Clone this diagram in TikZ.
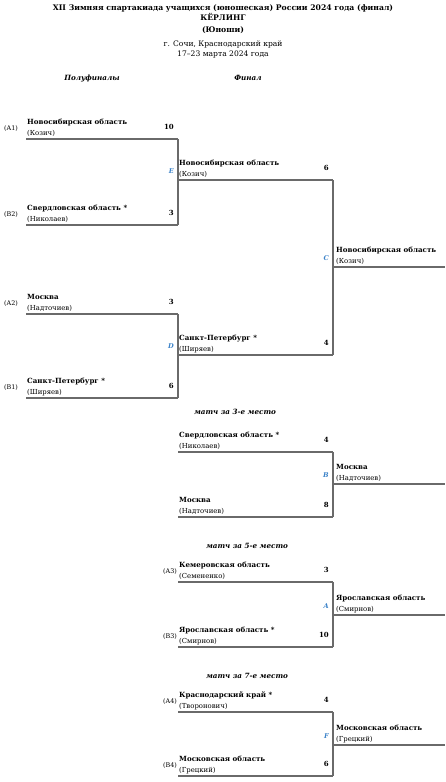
\documentclass[tikz,border=0pt]{standalone}
\usepackage{fontspec}
\setmainfont{DejaVu Serif}
\usetikzlibrary{calc}
\definecolor{lncol}{HTML}{6A6A6A}
\definecolor{letcol}{HTML}{3B82C8}
\tikzset{
  bline/.style={draw=lncol,line width=1.1pt},
  teamtxt/.style={anchor=base west,inner sep=0pt,font=\fontsize{7.1}{8}\selectfont\bfseries},
  playtxt/.style={anchor=base west,inner sep=0pt,font=\fontsize{6.9}{8}\selectfont},
  scoretxt/.style={anchor=base east,inner sep=0pt,font=\fontsize{7}{8}\selectfont\bfseries},
  seedtxt/.style={anchor=base west,inner sep=0pt,font=\fontsize{6.4}{7}\selectfont},
  lettxt/.style={anchor=base east,inner sep=0pt,text=letcol,font=\fontsize{6.6}{7}\selectfont\bfseries\itshape},
  headtxt/.style={anchor=base,inner sep=0pt,font=\fontsize{7.2}{8}\selectfont\bfseries\itshape},
  titletxt/.style={anchor=base,inner sep=0pt,font=\fontsize{7.7}{9}\selectfont\bfseries},
  subtxt/.style={anchor=base,inner sep=0pt,font=\fontsize{7.6}{9}\selectfont},
}
% #1 id, #2 x0, #3 x1, #4 y, #5 team, #6 player, #7 score
\newcommand\slotS[7]{%
  \coordinate (#1a) at (#2,#4);
  \coordinate (#1b) at (#3,#4);
  \draw[bline] (#1a) -- (#1b);
  \node[teamtxt] (#1t) at ($(#1a)+(1,-15)$) {#5};
  \node[playtxt] (#1p) at ($(#1a)+(1,-4)$) {#6};
  \node[scoretxt] (#1s) at ($(#1b)+(-4,-10)$) {#7};
}
\newcommand\slotW[6]{%
  \coordinate (#1a) at (#2,#4);
  \coordinate (#1b) at (#3,#4);
  \draw[bline] (#1a) -- (#1b);
  \node[teamtxt] (#1t) at ($(#1a)+(3,-15)$) {#5};
  \node[playtxt] (#1p) at ($(#1a)+(3,-4)$) {#6};
}
\begin{document}
\begin{tikzpicture}[x=1pt,y=-1pt]
\useasboundingbox (0,0) rectangle (445,782);
% titles
\node[titletxt] (t1) at (223,10) {XII Зимняя спартакиада учащихся (юношеская) России 2024 года (финал)};
\node[titletxt] (t2) at (223,20) {КЁРЛИНГ};
\node[titletxt] (t3) at (223,32) {(Юноши)};
\node[subtxt] (t4) at (223,46) {г. Сочи, Краснодарский край};
\node[subtxt] (t5) at (223,56) {17–23 марта 2024 года};
\node[headtxt] (h1) at (92,80) {Полуфиналы};
\node[headtxt] (h2) at (248,80) {Финал};
% semifinal E
\slotS{E1}{26}{178}{139}{Новосибирская область}{(Козич)}{10}
\slotS{E2}{26}{178}{225}{Свердловская область *}{(Николаев)}{3}
\draw[bline] (E1b) -- (E2b);
\node[seedtxt] (sA1) at ($(E1a)+(-22,-9)$) {(A1)};
\node[seedtxt] (sB2) at ($(E2a)+(-22,-9)$) {(B2)};
% semifinal D
\slotS{D1}{26}{178}{314}{Москва}{(Надточиев)}{3}
\slotS{D2}{26}{178}{398}{Санкт-Петербург *}{(Ширяев)}{6}
\draw[bline] (D1b) -- (D2b);
\node[seedtxt] (sA2) at ($(D1a)+(-22,-9)$) {(A2)};
\node[seedtxt] (sB1) at ($(D2a)+(-22,-9)$) {(B1)};
% final
\slotS{C1}{178}{333}{180}{Новосибирская область}{(Козич)}{6}
\slotS{C2}{178}{333}{355}{Санкт-Петербург *}{(Ширяев)}{4}
\node[lettxt] (lE) at ($(C1a)+(-4,-7)$) {E};
\node[lettxt] (lD) at ($(C2a)+(-4,-7)$) {D};
\draw[bline] (C1b) -- (C2b);
\slotW{CW}{333}{445}{267}{Новосибирская область}{(Козич)}
\node[lettxt] (lC) at ($(CWa)+(-4,-7)$) {C};
% 3rd place
\node[headtxt] (h3) at (235,414) {матч за 3-е место};
\slotS{B1}{178}{333}{452}{Свердловская область *}{(Николаев)}{4}
\slotS{B2}{178}{333}{517}{Москва}{(Надточиев)}{8}
\draw[bline] (B1b) -- (B2b);
\slotW{BW}{333}{445}{484}{Москва}{(Надточиев)}
\node[lettxt] (lB) at ($(BWa)+(-4,-7)$) {B};
% 5th place
\node[headtxt] (h5) at (247,548) {матч за 5-е место};
\slotS{A1}{178}{333}{582}{Кемеровская область}{(Семененко)}{3}
\slotS{A2}{178}{333}{647}{Ярославская область *}{(Смирнов)}{10}
\draw[bline] (A1b) -- (A2b);
\node[seedtxt] (sA3) at ($(A1a)+(-15,-9)$) {(A3)};
\node[seedtxt] (sB3) at ($(A2a)+(-15,-9)$) {(B3)};
\slotW{AW}{333}{445}{615}{Ярославская область}{(Смирнов)}
\node[lettxt] (lA) at ($(AWa)+(-4,-7)$) {A};
% 7th place
\node[headtxt] (h7) at (247,678) {матч за 7-е место};
\slotS{F1}{178}{333}{712}{Краснодарский край *}{(Твоpонович)}{4}
\slotS{F2}{178}{333}{776}{Московская область}{(Грецкий)}{6}
\draw[bline] (F1b) -- (F2b);
\node[seedtxt] (sA4) at ($(F1a)+(-15,-9)$) {(A4)};
\node[seedtxt] (sB4) at ($(F2a)+(-15,-9)$) {(B4)};
\slotW{FW}{333}{445}{745}{Московская область}{(Грецкий)}
\node[lettxt] (lF) at ($(FWa)+(-4,-7)$) {F};
\end{tikzpicture}
\end{document}
